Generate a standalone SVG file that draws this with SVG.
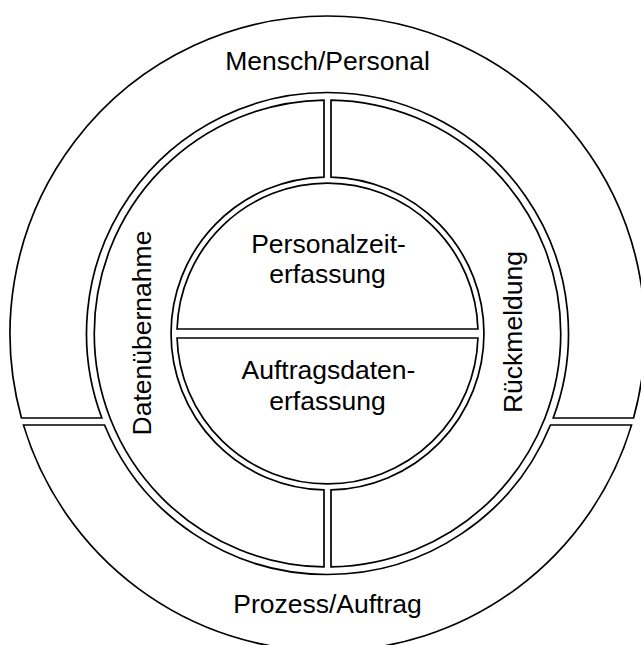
<svg xmlns="http://www.w3.org/2000/svg" width="641" height="645" viewBox="0 0 641 645">
<style>
.seg{fill:#fff;stroke:#000;stroke-width:1.7;stroke-linejoin:miter}
.t{font-family:"Liberation Sans",Arial,sans-serif;font-size:26.5px;fill:#000;text-anchor:middle}
</style>
<rect width="641" height="645" fill="#fff"/>
<g id="outer-top">
<path class="seg" d="M 21.45 418 A 317.5 317.5 0 1 1 633.55 418 L 553.2 418 A 241 241 0 1 0 101.8 418 Z"/>
<text class="t" x="327.5" y="70">Mensch/Personal</text>
</g>
<g id="outer-bottom">
<path class="seg" d="M 23.47 425 L 104.55 425 A 241 241 0 0 0 550.45 425 L 631.53 425 A 317.5 317.5 0 0 1 23.47 425 Z"/>
<text class="t" x="327.5" y="613">Prozess/Auftrag</text>
</g>
<g id="middle-left">
<path class="seg" d="M 324 100.03 A 233.5 233.5 0 0 0 324 566.97 L 324 489.96 A 156.5 156.5 0 0 1 324 177.04 Z"/>
<text class="t" transform="translate(151,333) rotate(-90)" x="0" y="0">Datenübernahme</text>
</g>
<g id="middle-right">
<path class="seg" d="M 331 100.03 A 233.5 233.5 0 0 1 331 566.97 L 331 489.96 A 156.5 156.5 0 0 0 331 177.04 Z"/>
<text class="t" transform="translate(522,332) rotate(-90)" x="0" y="0">Rückmeldung</text>
</g>
<g id="inner-top">
<path class="seg" d="M 177.07 329 A 150.5 150.5 0 0 1 477.93 329 Z"/>
<text class="t" x="328.5" y="253">Personalzeit-</text>
<text class="t" x="327.5" y="283">erfassung</text>
</g>
<g id="inner-bottom">
<path class="seg" d="M 177.07 338 A 150.5 150.5 0 0 0 477.93 338 Z"/>
<text class="t" x="328.5" y="379">Auftragsdaten-</text>
<text class="t" x="327.5" y="410">erfassung</text>
</g>
<g id="connectors"></g>
</svg>
